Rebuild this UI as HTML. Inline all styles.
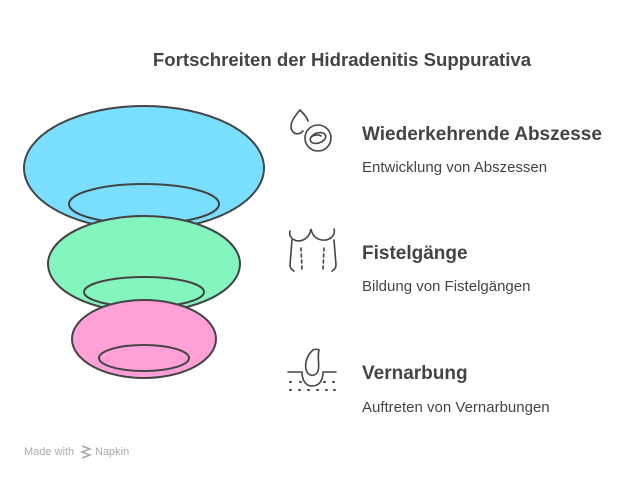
<!DOCTYPE html>
<html><head><meta charset="utf-8"><style>
body{margin:0;background:#fff;width:636px;height:478px;overflow:hidden}
svg text{font-family:"Liberation Sans",sans-serif}
</style></head><body>
<svg width="636" height="478" viewBox="0 0 636 478">
<text x="342" y="66" text-anchor="middle" font-size="18.6" font-weight="bold" fill="#444">Fortschreiten der Hidradenitis Suppurativa</text>
<g stroke="#444" stroke-width="2">
<ellipse cx="144" cy="168" rx="120" ry="62" fill="#7adeff"/>
<ellipse cx="144" cy="204" rx="75" ry="20" fill="#7adeff"/>
<ellipse cx="144" cy="264" rx="96" ry="48" fill="#84f5be"/>
<ellipse cx="144" cy="292" rx="60" ry="15" fill="#84f5be"/>
<ellipse cx="144" cy="339" rx="72" ry="39" fill="#ffa1d7"/>
<ellipse cx="144" cy="358" rx="45" ry="13" fill="#ffa1d7"/>
</g>
<g fill="none" stroke="#444" stroke-width="1.6" stroke-linecap="round">
<path d="M300 110 C293 118 288 126 293 132 C296 135 300 134 303 131"/>
<path d="M300 110 C303 113 307 117 308 121"/>
<circle cx="318" cy="138" r="13"/>
<ellipse cx="318" cy="138" rx="8" ry="5" transform="rotate(-20 318 138)"/>
<path d="M311 137 C314 135 319 134 321 136"/>
<path d="M290 231 C288 238 296 243 303 240 C308 238 310 234 311 229 C312 234 315 239 322 240 C330 241 336 235 334 229"/>
<path d="M292 240 L290 265 C290 268 292 270 294 271"/>
<path d="M334 240 L336 265 C336 268 334 270 332 271"/>
<path d="M301 248 L302 270" stroke-dasharray="3 3"/>
<path d="M324 248 L323 270" stroke-dasharray="3 3"/>
<path d="M288 372 L302 372 C302 382 307 386 312 386 C318 386 323 382 323 372 L336 372"/>
<path d="M313 350 C306 356 304 366 307 372 C310 377 316 376 318 371 C320 366 317 357 319 350 C317 349 315 349 313 350Z"/>
<path d="M290 382 h1 M300 382 h1 M324 382 h1 M333 382 h1 M290 390 h1 M299 390 h1 M308 390 h1 M317 390 h1 M326 390 h1 M334 390 h1" stroke-width="2"/>
</g>
<g fill="#444">
<text x="362" y="140" font-size="19" font-weight="bold">Wiederkehrende Abszesse</text>
<text x="362" y="172" font-size="15">Entwicklung von Abszessen</text>
<text x="362" y="259" font-size="19" font-weight="bold">Fistelgänge</text>
<text x="362" y="291" font-size="15">Bildung von Fistelgängen</text>
<text x="362" y="379" font-size="19" font-weight="bold">Vernarbung</text>
<text x="362" y="412" font-size="15">Auftreten von Vernarbungen</text>
</g>
<text x="24" y="455" font-size="11" fill="#aaa">Made with</text>
<text x="95" y="455" font-size="11" fill="#aaa">Napkin</text>
<path d="M82 446 l8 3 l-8 3 l8 3 l-8 3" fill="none" stroke="#aaa" stroke-width="1.5"/>
</svg>
</body></html>
